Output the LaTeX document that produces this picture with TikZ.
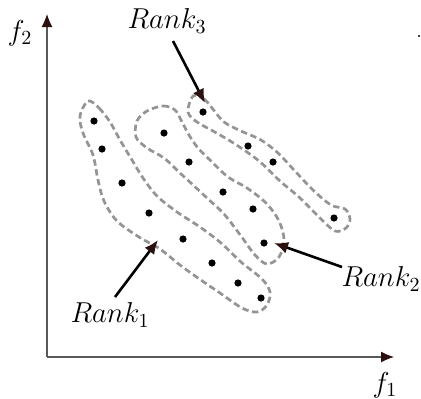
\documentclass[tikz,border=0pt]{standalone}
\usetikzlibrary{arrows.meta}
\begin{document}
\begin{tikzpicture}[x=0.5pt,y=-0.5pt,
  axis/.style={draw=black!65,line width=0.6pt,-{Latex[length=6.5pt,width=5.5pt,color=tipcol]}},
  pointer/.style={draw=black,line width=1.3pt,-{Latex[length=7pt,width=6pt,color=tipcol]}},
  contour/.style={draw=black!42,line width=1.35pt,dash pattern=on 3.2pt off 1.8pt},
  pt/.style={circle,fill=black,inner sep=0pt,minimum size=3.6pt},
  lbl/.style={inner sep=0pt,font=\fontsize{14}{17}\selectfont}]
\definecolor{tipcol}{HTML}{2B1010}
\useasboundingbox (0,0) rectangle (421,398);
% axes
\coordinate (o) at (47,357);
\coordinate (ytip) at (47,14);
\coordinate (xtip) at (394,357);
\draw[axis] (o) -- (ytip);
\draw[axis] (o) -- (xtip);
\node[lbl] (f2) at (20,33) {$f_2$};
\node[lbl] (f1) at (385,385) {$f_1$};
\node[circle,fill=black,inner sep=0pt,minimum size=1.1pt] (spk) at (419,36) {};
% contours
\draw[contour] plot[smooth cycle,tension=0.55] coordinates {
 (88,101) (99,108) (110,122) (120,140) (132,160) (143,178) (157,196) (177,212)
 (200,227) (221,243) (241,262) (262,279) (270,292) (267,305) (257,312)
 (242,308) (220,293) (198,278) (180,265) (160,249) (139,237) (117,221)
 (104,201) (98,180) (93,155) (83,133) (80,116)};
\draw[contour] plot[smooth cycle,tension=0.55] coordinates {
 (147,111) (163,106) (175,110) (182,122) (189,135) (198,148) (211,161)
 (228,177) (247,188) (266,203) (279,221) (284,240) (279,257) (267,264)
 (255,255) (241,236) (224,214) (207,198) (192,184) (180,173) (164,158)
 (147,148) (136,137) (137,121)};
\draw[contour] plot[smooth cycle,tension=0.55] coordinates {
 (193,96) (204,99) (212,108) (224,122) (241,131) (261,140) (278,153)
 (294,170) (313,190) (331,205) (345,209) (350,219) (346,228) (335,231)
 (320,218) (300,198) (280,181) (259,161) (235,144) (213,131) (197,122)
 (188,112)};
% rank 1 points
\foreach \n/\p in {a1/{(94,121)},a2/{(102,149)},a3/{(122,183)},a4/{(149,213)},
  a5/{(183,239)},a6/{(212,263)},a7/{(238,283)},a8/{(261,298)}}
  \node[pt] (\n) at \p {};
% rank 2 points
\foreach \n/\p in {b1/{(164,133)},b2/{(189,162)},b3/{(223,192)},b4/{(253,209)},b5/{(264,243)}}
  \node[pt] (\n) at \p {};
% rank 3 points
\foreach \n/\p in {c1/{(203,112)},c2/{(248,146)},c3/{(273,162)},c4/{(334,218)}}
  \node[pt] (\n) at \p {};
% labels and pointers
\node[lbl] (r3) at (167,21) {$Rank_3$};
\node[lbl] (r2) at (381,279) {$Rank_2$};
\node[lbl] (r1) at (110,315) {$Rank_1$};
\coordinate (r3s) at (173,41);
\coordinate (r3t) at (205,103);
\coordinate (r2s) at (342,267);
\coordinate (r2t) at (274,243);
\coordinate (r1s) at (115,297);
\coordinate (r1t) at (158,240);
\draw[pointer] (r3s) -- (r3t);
\draw[pointer] (r2s) -- (r2t);
\draw[pointer] (r1s) -- (r1t);
\end{tikzpicture}
\end{document}
